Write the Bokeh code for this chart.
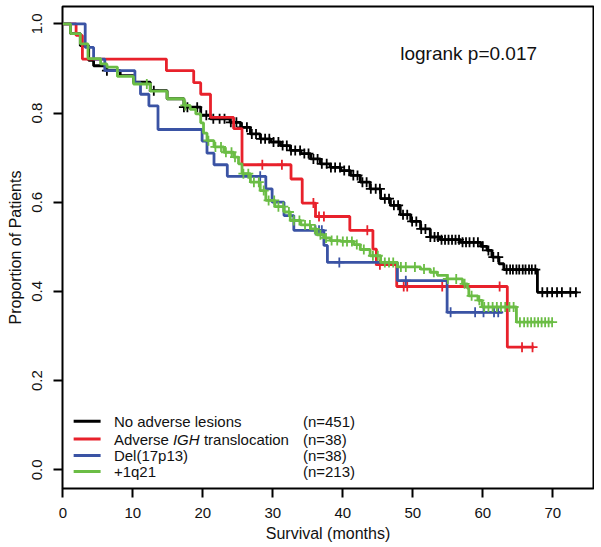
import numpy as np
from bokeh.plotting import figure
from bokeh.models import Range1d, FixedTicker, PrintfTickFormatter, Label
from bokeh.embed import file_html
from bokeh.resources import INLINE

# ---------------- data ----------------
group_labels = ["No adverse lesions", "Adverse IGH translocation", "Del(17p13)", "+1q21"]
n_labels = ["(n=451)", "(n=38)", "(n=38)", "(n=213)"]
colors = ["#000000", "#E8212B", "#3A53A4", "#6BBD45"]

# No adverse lesions
black_t = [0, 1.1, 2.5, 3.7, 4.4, 6.3, 8.2, 10.1, 12.5, 14.9, 17.3, 19.7, 21.1, 23.9, 25.4,
           26.8, 28.2, 29.7, 31.1, 32.5, 34.0, 35.4, 36.8, 38.2, 39.7, 41.1, 42.5, 43.9, 45.4,
           46.8, 48.2, 49.7, 51.1, 52.5, 53.9, 56.8, 59.7, 60.6, 61.3, 62.3, 63.0, 67.8]
black_s = [1.0, 0.978, 0.951, 0.918, 0.906, 0.895, 0.884, 0.869, 0.850, 0.832, 0.813, 0.795,
           0.787, 0.779, 0.768, 0.753, 0.742, 0.735, 0.727, 0.716, 0.709, 0.697, 0.686, 0.678,
           0.671, 0.660, 0.645, 0.630, 0.608, 0.593, 0.572, 0.557, 0.540, 0.522, 0.516, 0.510,
           0.501, 0.492, 0.477, 0.462, 0.449, 0.398]
black_end = 73.5
black_cens = [6.3, 13.0, 17.3, 17.8, 19.2, 20.5, 21.5, 22.4, 23.1, 24.0, 24.8, 25.6, 26.3,
              27.0, 27.6, 28.3, 28.9, 29.5, 30.1, 30.8, 31.4, 32.0, 32.6, 33.2, 33.9, 34.5,
              35.1, 35.8, 36.4, 37.0, 37.7, 38.3, 38.9, 39.6, 40.2, 40.9, 41.5, 42.1, 42.8,
              43.4, 44.0, 44.7, 45.3, 46.0, 46.6, 47.3, 47.9, 48.6, 49.2, 49.9, 50.5, 51.2,
              51.8, 52.5, 53.1, 53.6, 54.1, 54.6, 55.1, 55.6, 56.1, 56.6, 57.1, 57.6, 58.1,
              58.7, 59.3, 60.0, 60.8, 61.5, 62.2, 63.4, 63.9, 64.3, 64.8, 65.2, 65.7, 66.1,
              66.6, 67.0, 67.5, 68.5, 69.2, 69.9, 70.6, 71.3, 72.5, 73.3]

# Adverse IGH translocation
red_t = [0, 1.9, 2.8, 14.8, 18.7, 19.7, 21.1, 24.4, 25.6, 32.6, 34.2, 36.1, 41.0, 44.3,
         44.8, 47.7, 63.5]
red_s = [1.0, 0.974, 0.921, 0.895, 0.868, 0.842, 0.790, 0.765, 0.684, 0.652, 0.598, 0.568,
         0.537, 0.495, 0.460, 0.411, 0.275]
red_end = 67.3
red_cens = [28.5, 31.3, 35.8, 36.6, 37.3, 43.5, 45.3, 48.7, 49.2, 54.2, 62.4, 65.6, 67.1]

# Del(17p13)
blue_t = [0, 3.2, 4.4, 6.0, 10.3, 11.1, 12.3, 13.6, 19.9, 20.6, 21.6, 23.5, 29.0, 29.9,
          31.6, 33.0, 37.3, 37.8, 47.8, 54.9]
blue_s = [1.0, 0.947, 0.921, 0.895, 0.868, 0.842, 0.816, 0.763, 0.737, 0.710, 0.684, 0.658,
          0.630, 0.600, 0.570, 0.537, 0.503, 0.465, 0.424, 0.353]
blue_end = 62.8
blue_cens = [28.2, 36.1, 36.6, 37.0, 39.5, 49.0, 55.4, 58.9, 60.1, 61.6, 62.2]

# +1q21
green_t = [0, 1.1, 2.5, 3.6, 5.4, 6.3, 7.8, 10.1, 12.5, 14.9, 17.3, 18.2, 19.0, 19.7, 20.1,
           20.6, 21.6, 23.0, 24.4, 25.1, 25.6, 26.8, 28.2, 29.0, 30.3, 31.6, 32.5, 34.0, 35.4,
           36.3, 37.3, 38.2, 39.7, 41.6, 42.5, 43.9, 45.4, 47.8, 51.1, 52.5, 53.5, 54.9, 57.1,
           57.8, 58.0, 59.3, 59.9, 64.8]
green_s = [1.0, 0.978, 0.955, 0.922, 0.910, 0.903, 0.882, 0.865, 0.849, 0.832, 0.817, 0.808,
           0.798, 0.778, 0.755, 0.738, 0.724, 0.712, 0.701, 0.686, 0.664, 0.645, 0.626, 0.604,
           0.590, 0.578, 0.559, 0.549, 0.540, 0.527, 0.520, 0.514, 0.512, 0.505, 0.494, 0.480,
           0.465, 0.455, 0.450, 0.443, 0.436, 0.428, 0.417, 0.407, 0.390, 0.380, 0.365, 0.331]
green_end = 69.9
green_cens = [12.0, 17.5, 20.8, 21.8, 22.6, 23.3, 24.1, 24.6, 25.8, 26.5, 27.3, 28.0, 28.7,
              29.4, 30.2, 30.8, 31.5, 32.3, 33.0, 33.8, 34.6, 35.3, 36.0, 36.8, 37.6, 38.4,
              39.2, 40.0, 40.6, 41.3, 42.0, 43.0, 44.3, 45.0, 46.0, 46.6, 47.2, 48.3, 49.0,
              50.3, 51.6, 53.0, 55.0, 56.2, 57.4, 58.4, 59.5, 60.2, 60.8, 61.4, 62.0, 62.6,
              63.2, 63.8, 64.4, 65.3, 65.9, 66.4, 66.9, 67.4, 67.9, 68.4, 68.9, 69.4, 69.9]

x_ticks = [0, 10, 20, 30, 40, 50, 60, 70]
y_ticks = [0.0, 0.2, 0.4, 0.6, 0.8, 1.0]
logrank_text = "logrank p=0.017"

# ---------------- figure ----------------
FONT = "Liberation Sans"
p = figure(width=594, height=547, output_backend="svg", toolbar_location=None,
           x_range=Range1d(-0.043, 75.81), y_range=Range1d(-0.0419, 1.0388),
           min_border_left=62, min_border_right=1, min_border_top=6, min_border_bottom=59)
p.xgrid.visible = False
p.ygrid.visible = False
p.outline_line_color = "black"
p.outline_line_width = 2
p.background_fill_color = "white"
p.border_fill_color = "white"

for ax in (p.xaxis[0], p.yaxis[0]):
    ax.axis_line_color = None
    ax.major_tick_line_color = "black"
    ax.major_tick_line_width = 2
    ax.major_tick_out = 9
    ax.major_tick_in = 0
    ax.minor_tick_line_color = None
    ax.major_label_text_font = FONT
    ax.major_label_text_font_size = "15px"
    ax.major_label_text_color = "#111111"
    ax.axis_label_text_font = FONT
    ax.axis_label_text_font_size = "16px"
    ax.axis_label_text_font_style = "normal"
    ax.axis_label_text_color = "#111111"

p.xaxis.ticker = FixedTicker(ticks=x_ticks)
p.yaxis.ticker = FixedTicker(ticks=y_ticks)
p.yaxis.formatter = PrintfTickFormatter(format="%.1f")
p.yaxis.major_label_orientation = "vertical"
p.xaxis.axis_label = "Survival (months)"
p.yaxis.axis_label = "Proportion of Patients"
p.xaxis.major_label_standoff = 10
p.xaxis.axis_label_standoff = 4
p.yaxis.major_label_standoff = 11
p.yaxis.axis_label_standoff = 6

groups = [
    (black_t, black_s, black_end, black_cens),
    (red_t, red_s, red_end, red_cens),
    (blue_t, blue_s, blue_end, blue_cens),
    (green_t, green_s, green_end, green_cens),
]

for (t, s, end, cens), col in zip(groups, colors):
    xs = list(t) + [end]
    ys = list(s) + [s[-1]]
    p.step(xs, ys, mode="after", line_color=col, line_width=2.8)
    ta = np.asarray(t)
    sa = np.asarray(s)
    idx = np.searchsorted(ta, np.asarray(cens), side="right") - 1
    p.scatter(cens, sa[idx], marker="cross", size=10, line_color=col, line_width=1.8)

# ---------------- legend (drawn by hand, bottom left) ----------------
LEG_X0, LEG_X1 = 1.55, 5.4      # sample line span (data units)
LEG_TX = 7.3                   # label text anchor
LEG_NX = 34.3                  # "(n=...)" anchor
LEG_Y = [0.109, 0.069, 0.032, -0.004]
LEG_FS = "15px"

for i, (lab, nlab, col) in enumerate(zip(group_labels, n_labels, colors)):
    y = LEG_Y[i]
    p.segment(x0=[LEG_X0], x1=[LEG_X1], y0=[y], y1=[y], line_color=col, line_width=3)
    if "IGH" in lab:
        pre, post = lab.split("IGH")
        parts = [(pre.strip(), "normal", 0), ("IGH", "italic", 59), (post.strip(), "normal", 90)]
        for txt, style, off in parts:
            p.add_layout(Label(x=LEG_TX, y=y, x_offset=off, text=txt, text_font=FONT,
                               text_font_size=LEG_FS, text_font_style=style,
                               text_baseline="middle", text_color="#111111"))
    else:
        p.add_layout(Label(x=LEG_TX, y=y, text=lab, text_font=FONT, text_font_size=LEG_FS,
                           text_baseline="middle", text_color="#111111"))
    p.add_layout(Label(x=LEG_NX, y=y, text=nlab, text_font=FONT, text_font_size=LEG_FS,
                       text_baseline="middle", text_color="#111111"))

p.add_layout(Label(x=48.2, y=0.933, text=logrank_text, text_font=FONT,
                   text_font_size="19px", text_baseline="middle", text_color="#111111"))

open("out.html", "w").write(file_html(p, INLINE))
